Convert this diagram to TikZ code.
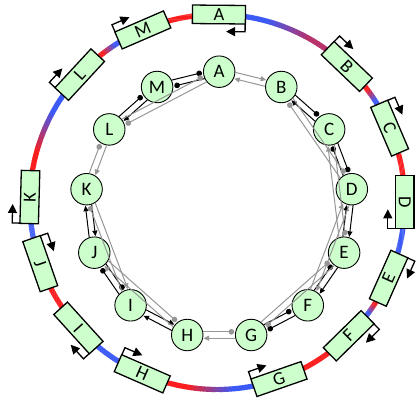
\documentclass[tikz,border=0pt]{standalone}
\usepackage{fontspec}
\setmainfont{Carlito}
\usetikzlibrary{calc,arrows.meta}
\definecolor{ringred}{RGB}{250,30,30}
\definecolor{ringblue}{RGB}{60,90,245}
\definecolor{nodegreen}{RGB}{204,255,204}
\definecolor{edgegray}{RGB}{150,150,150}
\tikzset{
  gnode/.style={circle, draw, line width=0.9pt, fill=nodegreen, minimum size=31.5pt, inner sep=0pt, font=\fontsize{19}{19}\selectfont},
  genebox/.style={rectangle, draw, line width=1.3pt, fill=nodegreen, minimum width=53pt, minimum height=18.5pt, inner sep=0pt, font=\fontsize{18.5}{18.5}\selectfont},
  prom/.style={line width=1.3pt, -{Triangle[length=9pt,width=9pt]}},
  blk/.style={black, line width=1pt},
  gry/.style={edgegray, line width=1pt},
  act/.style={-{Triangle[length=5.5pt,width=5pt]}, shorten >=16.3pt},
  inh/.style={-{Circle[length=5.6pt]}, shorten >=17pt},
}
\newcommand\gedge[4]{\draw[#1,#4,shorten <=15.7pt] ($(#2.center)!3.2pt!90:(#3.center)$) -- ($(#3.center)!3.2pt!-90:(#2.center)$);}
\begin{document}
\begin{tikzpicture}[x=1pt,y=1pt]
\useasboundingbox (0,0) rectangle (417,402);
\coordinate (O) at (217.3,200);
\coordinate (Ci) at (219.2,196.7);
% ring
\foreach \a/\b/\ps/\pe in {89.5/46.3/0/65, 46.3/23.2/100/0, 23.2/0/100/100, 0/-24/0/0, -24/-45.5/100/0, -45.5/-70.8/100/100, -70.8/-113.6/0/100, -113.6/-137.8/0/0, -137.8/-160.8/100/100, -160.8/-181.5/0/0, -181.5/-222.8/100/0, -222.8/-246.6/100/0, -246.6/-270.5/100/100} {
  \foreach \i in {0,...,29} {
    \pgfmathsetmacro\span{\b-\a+15}
    \pgfmathsetmacro\sa{\a-7.5+\span*\i/30}
    \pgfmathsetmacro\ea{\sa+\span/30*1.2}
    \pgfmathsetmacro\s{max(0,min(1,((\i+0.5)/30-0.25)/0.5))}
    \pgfmathtruncatemacro\p{\ps+(\pe-\ps)*\s}
    \draw[line width=5.2pt, ringred!\p!ringblue] ($(O)+(\sa:187.5pt)$) arc[start angle=\sa, end angle=\ea, radius=187.5pt];
  }
}
% genes
\foreach \n/\t/\d/\r in {A/89.5/1/-0.5, B/46.3/-1/-43.7, C/23.2/-1/-66.8, D/0/1/-90, E/-24/-1/66, F/-45.5/-1/44.5, G/-70.8/1/19.2, H/-113.6/1/-23.6, I/-137.8/-1/-47.8, J/-160.8/1/-70.8, K/178.5/-1/88.5, L/137.2/-1/47.2, M/113.4/-1/23.4} {
  \pgfmathsetmacro\f{\t+\d*90}
  \node[genebox, rotate=\r] (g\n) at ($(O)+(\t:187.5pt)$) {\n};
  \draw[prom] ($(g\n.center)+(\f+180:26.3pt)+(\f+90:9.3pt)$) -- ++(\f+90:7.7pt) -- ++(\f:19pt);
}
% inner nodes
\foreach \n [count=\k from 0] in {A,B,C,D,E,F,G,H,I,J,K,L,M} {
  \node[gnode] (\n) at ($(Ci)+({90-\k*360/13}:133.6pt)$) {\n};
}
% black edges
\gedge{blk}{A}{M}{inh} \gedge{blk}{M}{A}{inh}
\gedge{blk}{M}{L}{act} \gedge{blk}{L}{M}{inh}
\gedge{blk}{B}{C}{inh} \gedge{blk}{C}{B}{act}
\gedge{blk}{C}{D}{inh} \gedge{blk}{D}{C}{inh}
\gedge{blk}{D}{E}{act} \gedge{blk}{E}{D}{act}
\gedge{blk}{E}{F}{act} \gedge{blk}{F}{E}{inh}
\gedge{blk}{F}{G}{inh} \gedge{blk}{G}{F}{inh}
\gedge{blk}{H}{I}{act} \gedge{blk}{I}{H}{act}
\gedge{blk}{I}{J}{inh} \gedge{blk}{J}{I}{inh}
\gedge{blk}{J}{K}{act} \gedge{blk}{K}{J}{act}
% gray edges
\gedge{gry}{A}{B}{act} \gedge{gry}{B}{A}{act}
\gedge{gry}{A}{L}{inh} \gedge{gry}{L}{A}{inh}
\gedge{gry}{B}{D}{inh} \gedge{gry}{D}{B}{inh}
\gedge{gry}{C}{E}{inh} \gedge{gry}{E}{C}{act}
\gedge{gry}{D}{F}{act} \gedge{gry}{F}{D}{act}
\gedge{gry}{E}{G}{inh} \gedge{gry}{G}{E}{inh}
\gedge{gry}{G}{H}{act} \gedge{gry}{H}{G}{inh}
\gedge{gry}{H}{J}{act} \gedge{gry}{J}{H}{inh}
\gedge{gry}{I}{K}{inh} \gedge{gry}{K}{I}{act}
\gedge{gry}{K}{L}{inh} \gedge{gry}{L}{K}{act}
\end{tikzpicture}
\end{document}
